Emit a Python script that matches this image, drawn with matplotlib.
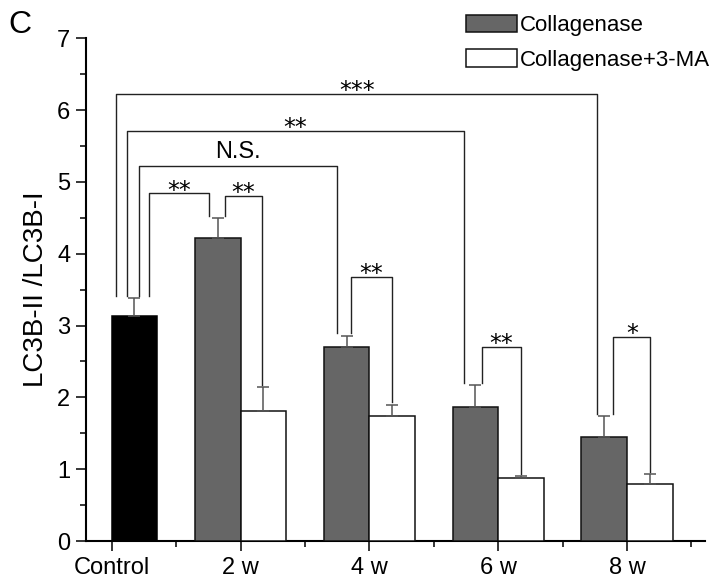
import numpy as np
import matplotlib
matplotlib.use('Agg')
import matplotlib.pyplot as plt
from matplotlib.patches import Patch

plt.rcParams['font.family'] = ['Liberation Sans', 'DejaVu Sans']

# data
categories = ['Control', '2 w', '4 w', '6 w', '8 w']
control_mean = 3.14
control_err = 0.24
coll_mean = [4.22, 2.70, 1.86, 1.45]
coll_err = [0.28, 0.16, 0.31, 0.29]
ma_mean = [1.81, 1.745, 0.873, 0.80]
ma_err = [0.33, 0.155, 0.03, 0.13]

# significance brackets: (x left leg, x right leg, bar left, bar right, top, label)
# bars: 'c' = control, ('g', i) = collagenase week i, ('w', i) = +3-MA week i
brackets = [
    (0.034, 3.770, 'c', ('g', 3), 6.23, '***'),
    (0.116, 2.737, 'c', ('g', 2), 5.71, '**'),
    (0.214, 1.747, 'c', ('g', 1), 5.22, 'N.S.'),
    (0.292, 0.753, 'c', ('g', 0), 4.84, '**'),
    (0.880, 1.167, ('g', 0), ('w', 0), 4.81, '**'),
    (1.858, 2.174, ('g', 1), ('w', 1), 3.68, '**'),
    (2.875, 3.175, ('g', 2), ('w', 2), 2.70, '**'),
    (3.895, 4.180, ('g', 3), ('w', 3), 2.84, '*'),
]

w = 0.354
x = np.arange(len(categories))

fig = plt.figure(figsize=(7.2, 5.82), dpi=100)
ax = fig.add_axes([86 / 720, 1 - 541 / 582, (705 - 86) / 720, (541 - 38.3) / 582])

ekw = dict(ecolor='#555555', elinewidth=1.1, capsize=4, capthick=1.1)
ax.bar(x[0] + w / 2, control_mean, w, color='black', edgecolor='black', linewidth=1.1,
       yerr=[[0], [control_err]], error_kw=ekw, zorder=3)
ax.bar(x[1:] - w / 2, coll_mean, w, color='#666666', edgecolor='#111111', linewidth=1.1,
       yerr=[np.zeros(4), coll_err], error_kw=ekw, zorder=3)
ax.bar(x[1:] + w / 2, ma_mean, w, color='white', edgecolor='#111111', linewidth=1.1,
       yerr=[np.zeros(4), ma_err], error_kw=ekw, zorder=3)


def bar_top(b):
    if b == 'c':
        return control_mean + control_err
    kind, i = b
    if kind == 'g':
        return coll_mean[i] + coll_err[i]
    return ma_mean[i] + ma_err[i]


for x1, x2, b1, b2, top, label in brackets:
    y1 = bar_top(b1) + 0.03
    y2 = bar_top(b2) + 0.03
    ax.plot([x1, x1, x2, x2], [y1, top, top, y2], color='#222222', lw=1.0, zorder=4)
    if label == 'N.S.':
        ax.text((x1 + x2) / 2, top + 0.05, label, ha='center', va='bottom', fontsize=17)
    else:
        ax.text((x1 + x2) / 2, top - 0.13, label, ha='center', va='bottom', fontsize=17,
                family='DejaVu Sans')

ax.set_xlim(-0.1995, 4.606)
ax.set_ylim(0, 7)
ax.set_xticks(x)
ax.set_xticklabels(categories)
ax.set_xticks(np.arange(0.5, 5, 1), minor=True)
ax.set_yticks(np.arange(0, 8, 1))
ax.set_yticks(np.arange(0.5, 7, 1), minor=True)
ax.tick_params(which='major', direction='out', length=7.2, width=1.1, labelsize=17, pad=4)
ax.tick_params(which='minor', direction='out', length=4.3, width=1.1)
for s in ['top', 'right']:
    ax.spines[s].set_visible(False)
for s in ['left', 'bottom']:
    ax.spines[s].set_linewidth(1.5)
ax.set_ylabel('LC3B-II /LC3B-I', fontsize=20, labelpad=6)

handles = [Patch(facecolor='#666666', edgecolor='#111111', linewidth=1.1),
           Patch(facecolor='white', edgecolor='#111111', linewidth=1.1)]
ax.legend(handles, ['Collagenase', 'Collagenase+3-MA'], loc='upper left',
          bbox_to_anchor=(450 / 720, 1 + 1 / 582), bbox_transform=fig.transFigure,
          frameon=False, fontsize=16, handlelength=2.3, handleheight=0.85,
          handletextpad=0.15, labelspacing=0.6, borderpad=0.2)

fig.text(8 / 720, 1 - 33 / 582, 'C', fontsize=23)

fig.savefig('out.png', dpi=100)
